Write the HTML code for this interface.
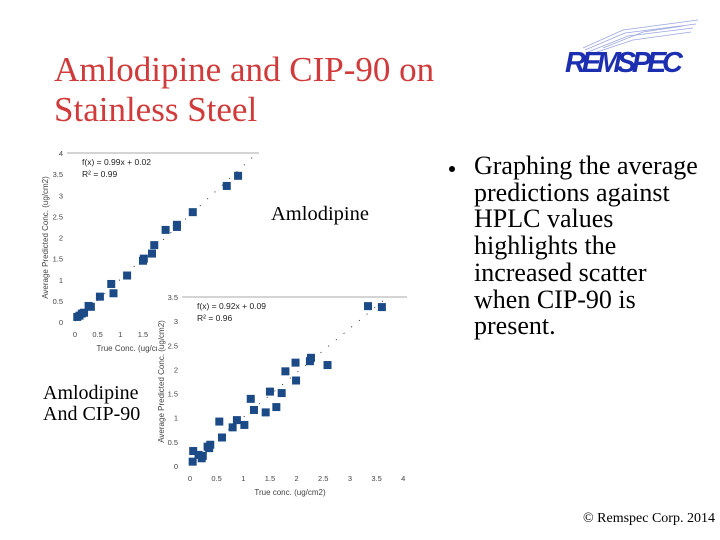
<!DOCTYPE html>
<html><head><meta charset="utf-8"><style>
body{margin:0;width:720px;height:540px;background:#fff;position:relative;overflow:hidden;font-family:"Liberation Serif",serif}
.abs{position:absolute;white-space:nowrap}
</style></head><body>
<div class="abs" style="left:54px;top:50px;font-size:35px;line-height:40px;color:#d03a3a">Amlodipine and CIP-90 on<br>Stainless Steel</div>
<div class="abs" style="left:563px;top:18px;width:140px;height:60px">
<svg width="140" height="60"><g stroke="#9aa6e0" stroke-width="0.7" fill="none">
<path d="M20 30 L60 12 L135 2"/><path d="M22 32 L62 15 L133 6"/><path d="M25 34 L65 18 L130 10"/><path d="M28 36 L70 22 L128 14"/><path d="M40 30 L80 14 L120 8"/></g>
<text x="2" y="54" font-family="Liberation Sans,sans-serif" font-weight="bold" font-style="italic" font-size="29" fill="#1c2fb0" textLength="118">REMSPEC</text></svg></div>
<div class="abs" style="left:449px;top:166px;width:6px;height:6px;border-radius:50%;background:#000"></div>
<div class="abs" style="left:474px;top:153px;font-size:26px;line-height:26.7px">Graphing the average<br>predictions against<br>HPLC values<br>highlights the<br>increased scatter<br>when CIP-90 is<br>present.</div>
<svg class="abs" style="left:0;top:0" width="720" height="540" id="charts"></svg>
<div class="abs" style="left:271px;top:203px;font-size:20.5px">Amlodipine</div>
<div class="abs" style="left:43px;top:383px;font-size:20px;line-height:21px">Amlodipine<br>And CIP-90</div>
<div class="abs" style="left:583px;top:511px;font-size:14px">© Remspec Corp. 2014</div>
<script>
const c1x=[0.05,0.1,0.15,0.2,0.3,0.35,0.55,0.8,0.85,1.15,1.5,1.52,1.7,1.75,2.0,2.25,2.25,2.6,3.35,3.6];
const c1y=[0.12,0.15,0.2,0.22,0.38,0.36,0.6,0.9,0.68,1.1,1.45,1.5,1.62,1.82,2.18,2.3,2.25,2.6,3.22,3.46];
const c1yTicks=["0","0.5","1","1.5","2","2.5","3","3.5","4"];
const c1xTicks=["0","0.5","1","1.5"];
const c1fit=[0.99,0.02];
const c2x=[0.05,0.06,0.16,0.22,0.24,0.33,0.38,0.36,0.55,0.6,0.8,0.88,1.02,1.14,1.2,1.42,1.5,1.62,1.72,1.79,1.98,1.99,2.25,2.27,2.58,3.34,3.6];
const c2y=[0.09,0.31,0.23,0.16,0.21,0.4,0.44,0.37,0.92,0.59,0.8,0.95,0.85,1.39,1.16,1.11,1.54,1.22,1.51,1.96,2.14,1.77,2.17,2.24,2.09,3.31,3.29];
const c2yTicks=["0","0.5","1","1.5","2","2.5","3","3.5"];
const c2xTicks=["0","0.5","1","1.5","2","2.5","3","3.5","4"];
const c2fit=[0.92,0.09];
const NS="http://www.w3.org/2000/svg";
const svg=document.getElementById('charts');
function mk(t,a,p){const e=document.createElementNS(NS,t);for(const k in a)e.setAttribute(k,a[k]);(p||svg).appendChild(e);return e;}
function chart(o){
 const g=mk('g',{});
 
 
 mk('rect',{x:o.bx,y:o.by,width:o.bw,height:o.bh,fill:'#fff'},g);
 const sx=v=>o.x0+v*o.kx, sy=v=>o.y0-v*o.ky;
 const top=sy(o.ymax);
 const gl=mk('line',{x1:o.x0-8,x2:o.xr,y1:top,y2:top,stroke:'#aaa','stroke-width':1},g);
 
 
 o.yt.forEach((t,i)=>{const e=mk('text',{x:o.x0-12,y:sy(i*0.5)+3,'font-size':7.5,'text-anchor':'end','font-family':'Liberation Sans,sans-serif',fill:'#444'},g);e.textContent=t;
  
  });
 o.xt.forEach((t,i)=>{const e=mk('text',{x:sx(i*0.5),y:o.y0+15,'font-size':7.5,'text-anchor':'middle','font-family':'Liberation Sans,sans-serif',fill:'#444'},g);e.textContent=t;
  
  });
 const xe=o.fitEnd;
 const tl=mk('line',{x1:sx(0),y1:sy(o.fit[1]),x2:sx(xe),y2:sy(o.fit[0]*xe+o.fit[1]),stroke:'#333','stroke-width':1,'stroke-dasharray':'1 9'},g);
 
 
 o.xs.forEach((v,i)=>{const r=mk('rect',{x:sx(v)-4,y:sy(o.ys[i])-4,width:8,height:8,fill:'#1b4a86'},g);
  
  });
 const eq=mk('text',{x:o.x0+7,y:top+12,'font-size':8.5,'font-family':'Liberation Sans,sans-serif',fill:'#222'},g);eq.textContent='f(x) = '+o.fit[0]+'x + '+o.fit[1].toFixed(2);
 
 
 const r2=mk('text',{x:o.x0+7,y:top+24,'font-size':8.5,'font-family':'Liberation Sans,sans-serif',fill:'#222'},g);r2.textContent='R² = '+o.r2;
 
 
 const yt=mk('text',{transform:`translate(${o.ytx},${(top+o.y0)/2}) rotate(-90)`,'font-size':8,'text-anchor':'middle','font-family':'Liberation Sans,sans-serif',fill:'#444'},g);yt.textContent='Average Predicted Conc. (ug/cm2)';
 
 
 const xt=mk('text',{x:o.xtx,y:o.y0+29,'font-size':8,'text-anchor':'middle','font-family':'Liberation Sans,sans-serif',fill:'#444'},g);xt.textContent=o.xtitle;
 
 
}
chart({name:'chart-amlodipine',bx:38,by:145,bw:225,bh:212,x0:75,y0:322,kx:45.3,ky:42.25,ymax:4,xr:259,xs:c1x,ys:c1y,yt:c1yTicks,xt:c1xTicks,fit:c1fit,fitEnd:4,r2:'0.99',ytx:48,xtx:133,xtitle:'True Conc. (ug/cm2)'});
chart({name:'chart-amlodipine-cip90',bx:157,by:288,bw:258,bh:212,x0:190,y0:466,kx:53.3,ky:48.3,ymax:3.5,xr:407,xs:c2x,ys:c2y,yt:c2yTicks,xt:c2xTicks,fit:c2fit,fitEnd:3.7,r2:'0.96',ytx:164,xtx:290,xtitle:'True conc. (ug/cm2)'});
</script>
</body></html>
